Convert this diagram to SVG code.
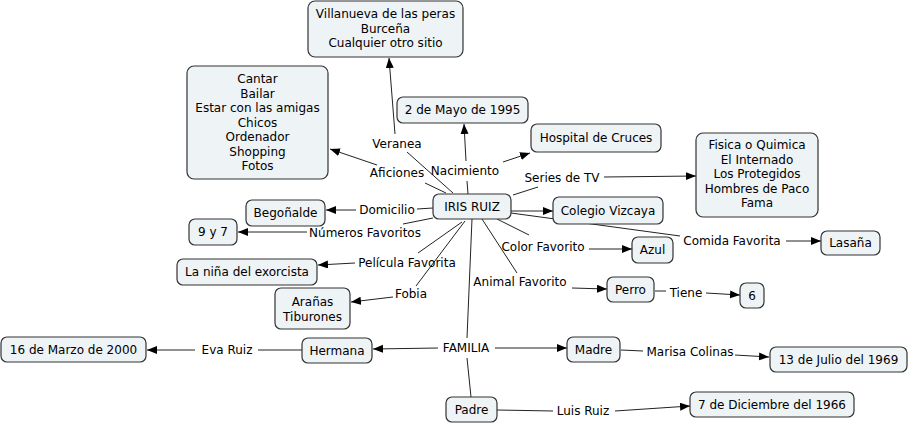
<svg xmlns="http://www.w3.org/2000/svg" width="910" height="425" viewBox="0 0 910 425">
<defs>
<marker id="arr" markerWidth="11" markerHeight="9" refX="10" refY="4" orient="auto" markerUnits="userSpaceOnUse">
<path d="M0,0 L10,4 L0,8 z" fill="#000"/>
</marker>
<style>
.n rect{fill:#eef3f6;stroke:#333;stroke-width:1.2}
text{font-family:"DejaVu Sans","Verdana",sans-serif;font-size:12px;fill:#000;text-anchor:middle}
#connectors line{stroke:#222;stroke-width:1}
#connectors line.a{marker-end:url(#arr)}
</style>
</defs>
<rect width="910" height="425" fill="#fff"/>
<g id="connectors">
<line x1="453" y1="193" x2="407" y2="152"/>
<line class="a" x1="395" y1="134" x2="389" y2="58"/>
<line x1="468" y1="194" x2="467" y2="181"/>
<line class="a" x1="466" y1="161" x2="464" y2="124"/>
<line class="a" x1="503" y1="162" x2="530" y2="153"/>
<line x1="446" y1="193" x2="425" y2="183"/>
<line class="a" x1="377" y1="165" x2="330" y2="149"/>
<line x1="513" y1="195" x2="538" y2="187"/>
<line class="a" x1="604" y1="177" x2="696" y2="176"/>
<line class="a" x1="511" y1="211" x2="553" y2="211"/>
<line x1="511" y1="213" x2="680" y2="236"/>
<line class="a" x1="786" y1="241" x2="821" y2="241"/>
<line x1="433" y1="208" x2="417" y2="209"/>
<line class="a" x1="356" y1="210" x2="326" y2="210"/>
<line x1="433" y1="218" x2="403" y2="224"/>
<line class="a" x1="307" y1="232" x2="238" y2="232"/>
<line x1="462" y1="222" x2="418" y2="253"/>
<line class="a" x1="355" y1="263" x2="318" y2="265"/>
<line x1="465" y1="221" x2="416" y2="286"/>
<line class="a" x1="393" y1="297" x2="351" y2="302"/>
<line x1="497" y1="219" x2="529" y2="235"/>
<line class="a" x1="589" y1="249" x2="632" y2="249"/>
<line x1="482" y1="219" x2="517" y2="273"/>
<line class="a" x1="572" y1="288" x2="607" y2="289"/>
<line x1="655" y1="291" x2="666" y2="291"/>
<line class="a" x1="706" y1="293" x2="740" y2="295"/>
<line x1="472" y1="219" x2="467" y2="338"/>
<line class="a" x1="438" y1="348" x2="373" y2="349"/>
<line class="a" x1="495" y1="348" x2="567" y2="348"/>
<line x1="467" y1="358" x2="471" y2="397"/>
<line x1="302" y1="350" x2="258" y2="350"/>
<line class="a" x1="195" y1="350" x2="147" y2="350"/>
<line x1="621" y1="350" x2="643" y2="351"/>
<line class="a" x1="735" y1="355" x2="769" y2="357"/>
<line x1="497" y1="410" x2="553" y2="411"/>
<line class="a" x1="615" y1="411" x2="690" y2="406"/>
</g>
<g id="labels">
<text x="397" y="148">Veranea</text>
<text x="465" y="175">Nacimiento</text>
<text x="397" y="177">Aficiones</text>
<text x="562" y="182">Series de TV</text>
<text x="387" y="214">Domicilio</text>
<text x="365" y="237">Números Favoritos</text>
<text x="407" y="267">Película Favorita</text>
<text x="411" y="298">Fobia</text>
<text x="543" y="251">Color Favorito</text>
<text x="520" y="286">Animal Favorito</text>
<text x="732" y="245">Comida Favorita</text>
<text x="686" y="297">Tiene</text>
<text x="466" y="352">FAMILIA</text>
<text x="227" y="354">Eva Ruiz</text>
<text x="690" y="356">Marisa Colinas</text>
<text x="583" y="415">Luis Ruiz</text>
</g>
<g id="n-villanueva" class="n"><rect x="308" y="1" width="155" height="56" rx="7"/>
<text x="385.5" y="18">Villanueva de las peras</text><text x="385.5" y="33">Burceña</text><text x="385.5" y="47">Cualquier otro sitio</text></g>
<g id="n-aficiones" class="n"><rect x="187" y="66" width="141" height="113" rx="7"/>
<text x="257.5" y="83">Cantar</text><text x="257.5" y="98">Bailar</text><text x="257.5" y="112">Estar con las amigas</text><text x="257.5" y="127">Chicos</text><text x="257.5" y="141">Ordenador</text><text x="257.5" y="156">Shopping</text><text x="257.5" y="170">Fotos</text></g>
<g id="n-nacimiento" class="n"><rect x="397" y="97" width="131" height="26" rx="6"/><text x="462.5" y="114">2 de Mayo de 1995</text></g>
<g id="n-hospital" class="n"><rect x="531" y="124" width="130" height="28" rx="6"/><text x="596" y="142">Hospital de Cruces</text></g>
<g id="n-series" class="n"><rect x="696" y="133" width="122" height="84" rx="7"/>
<text x="757" y="149">Fisica o Quimica</text><text x="757" y="164">El Internado</text><text x="757" y="178">Los Protegidos</text><text x="757" y="193">Hombres de Paco</text><text x="757" y="207">Fama</text></g>
<g id="n-iris" class="n"><rect x="433" y="194" width="78" height="25" rx="6"/><text x="472" y="211">IRIS RUIZ</text></g>
<g id="n-colegio" class="n"><rect x="553" y="197" width="110" height="27" rx="6"/><text x="608" y="215">Colegio Vizcaya</text></g>
<g id="n-lasana" class="n"><rect x="821" y="231" width="59" height="24" rx="6"/><text x="850.5" y="247">Lasaña</text></g>
<g id="n-azul" class="n"><rect x="632" y="237" width="41" height="26" rx="6"/><text x="652.5" y="254">Azul</text></g>
<g id="n-perro" class="n"><rect x="607" y="277" width="47" height="25" rx="6"/><text x="630.5" y="294">Perro</text></g>
<g id="n-seis" class="n"><rect x="740" y="283" width="24" height="25" rx="6"/><text x="752" y="300">6</text></g>
<g id="n-begonalde" class="n"><rect x="246" y="200" width="79" height="26" rx="6"/><text x="285.5" y="217">Begoñalde</text></g>
<g id="n-numeros" class="n"><rect x="189" y="219" width="48" height="26" rx="6"/><text x="213" y="236">9 y 7</text></g>
<g id="n-pelicula" class="n"><rect x="177" y="259" width="140" height="26" rx="6"/><text x="247" y="276">La niña del exorcista</text></g>
<g id="n-fobia" class="n"><rect x="275" y="288" width="75" height="41" rx="6"/><text x="312.5" y="306">Arañas</text><text x="312.5" y="321">Tiburones</text></g>
<g id="n-marzo" class="n"><rect x="1" y="337" width="145" height="25" rx="6"/><text x="73.5" y="354">16 de Marzo de 2000</text></g>
<g id="n-hermana" class="n"><rect x="302" y="338" width="70" height="25" rx="6"/><text x="337" y="355">Hermana</text></g>
<g id="n-madre" class="n"><rect x="567" y="337" width="53" height="25" rx="6"/><text x="593.5" y="354">Madre</text></g>
<g id="n-julio" class="n"><rect x="770" y="347" width="137" height="25" rx="6"/><text x="838.5" y="364">13 de Julio del 1969</text></g>
<g id="n-padre" class="n"><rect x="446" y="397" width="51" height="25" rx="6"/><text x="471.5" y="414">Padre</text></g>
<g id="n-diciembre" class="n"><rect x="690" y="392" width="164" height="25" rx="6"/><text x="772" y="409">7 de Diciembre del 1966</text></g>
</svg>
